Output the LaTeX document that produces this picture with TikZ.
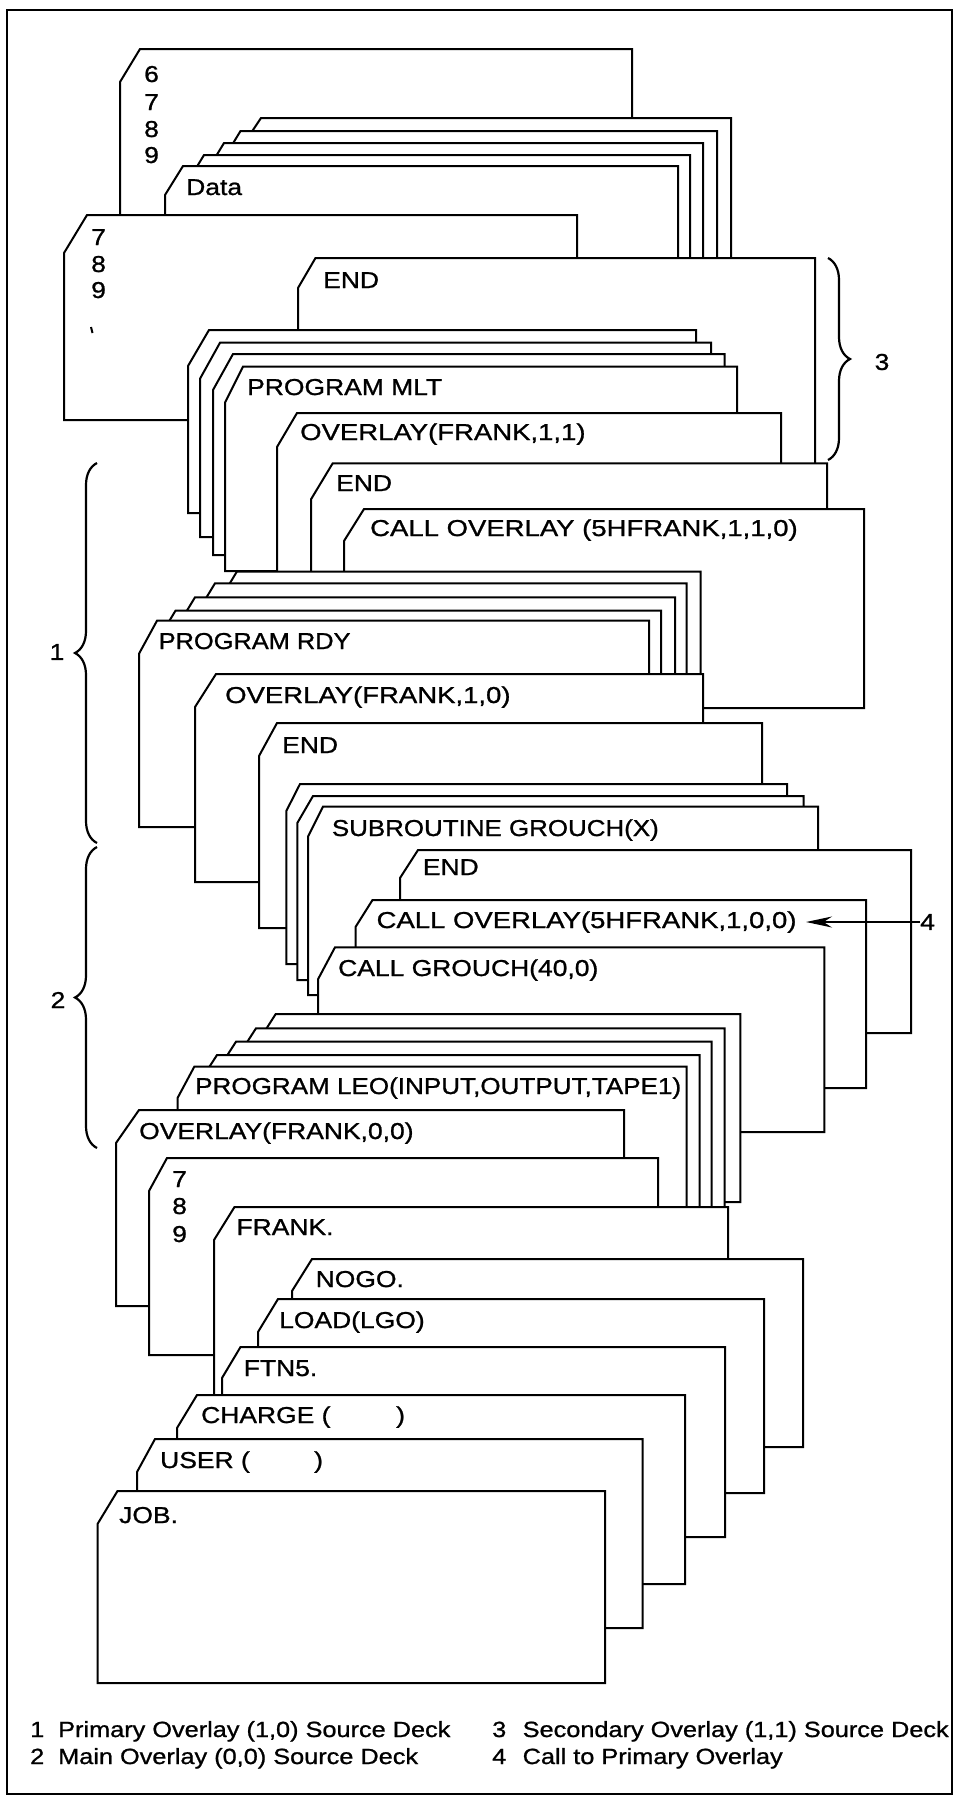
\documentclass[tikz,border=0pt]{standalone}
\usepackage{fontspec}
\usepackage{graphicx}
\setmainfont{Liberation Sans}[FakeStretch=1.15, FakeBold=1]
\usetikzlibrary{arrows.meta,decorations.pathreplacing}
\newcommand{\card}[6]{\filldraw[cardline] (#1,#3+#6) -- (#2,#3) -- (#4,#3) -- (#4,#5) -- (#1,#5) -- cycle;}
\newcommand{\wider}[1]{\scalebox{1.04}[1]{#1}}
\tikzset{
  cardline/.style={draw=black, fill=white, line width=2pt, line join=miter},
  lbl/.style={anchor=base west, inner sep=0pt, font=\fontsize{23}{27}\selectfont},
  leg/.style={anchor=base west, inner sep=0pt, font=\fontsize{22}{26}\selectfont},
  brc/.style={decorate, decoration={brace, amplitude=22pt}, line width=2.2pt},
  arr/.style={line width=2pt, -{Stealth[length=26pt,width=11pt]}}
}
\begin{document}
\begin{tikzpicture}[x=1pt,y=-1pt]
\useasboundingbox (0,0) rectangle (955,1797);
\draw[line width=2.5pt] (7,10) rectangle (952,1794);
% ---- top group
\card{120}{140}{49}{632}{240}{33}
\node[lbl] (d6) at (144,82) {6};
\node[lbl] (d7a) at (144,110) {7};
\node[lbl] (d8a) at (144,137) {8};
\node[lbl] (d9a) at (144,163) {9};
\card{241}{261}{118}{731}{300}{30}
\card{220.5}{240.5}{131}{717}{300}{33}
\card{204}{224}{143}{703}{300}{33}
\card{184}{204}{155}{690}{300}{33}
\card{165}{183}{166}{678}{300}{29}
\node[lbl] (tData) at (186,195) {Data};
\card{64}{87}{215}{577}{420}{38}
\node[lbl] (d7b) at (91,245) {7};
\node[lbl] (d8b) at (91,272) {8};
\node[lbl] (d9b) at (91,298) {9};
\draw[line width=2pt] (91,327) -- (92.5,333);
\card{298}{315.5}{258}{815}{480}{30}
\node[lbl] (tEnd1) at (323,288) {END};
% ---- secondary overlay deck
\card{188}{209}{330}{696}{513}{36}
\card{200}{220}{342.7}{711}{537}{36}
\card{213}{233}{354}{724.5}{555}{36}
\card{225}{243}{366.7}{737}{571}{36}
\node[lbl] (tMLT) at (247,395) {PROGRAM MLT};
\card{277}{297}{413}{781}{600}{34}
\node[lbl] (tOv11) at (300,440) {\wider{OVERLAY(FRANK,1,1)}};
\card{311}{332.7}{463.3}{827}{600}{36}
\node[lbl] (tEnd2) at (336,491) {END};
\card{344}{364}{509}{864}{708}{32}
\node[lbl] (tCall110) at (370,536) {\wider{CALL OVERLAY (5HFRANK,1,1,0)}};
% ---- primary overlay deck
\card{217}{236.8}{571.7}{700.6}{800}{33}
\card{195}{215}{583.3}{686.7}{800}{33}
\card{175}{195}{597.3}{675}{800}{33}
\card{155.5}{175.5}{610.7}{661}{800}{33}
\card{139}{157}{620.7}{649}{827}{33}
\node[lbl] (tRDY) at (158.5,649) {\scalebox{0.96}[1]{PROGRAM RDY}};
\card{195}{216}{674}{703}{882}{33}
\node[lbl] (tOv10) at (225,703) {\wider{OVERLAY(FRANK,1,0)}};
\card{259}{277}{723}{762}{928}{33}
\node[lbl] (tEnd3) at (282,753) {END};
% ---- main overlay deck
\card{286.3}{300}{784}{787}{964}{27}
\card{297.3}{313}{796}{803.5}{980}{27}
\card{308}{323}{806.7}{818}{995}{30}
\node[lbl] (tSub) at (331.7,836) {\scalebox{0.98}[1]{SUBROUTINE GROUCH(X)}};
\card{400}{418}{850}{911}{1033}{28}
\node[lbl] (tEnd4) at (422.7,875) {END};
\card{355.5}{372.5}{900}{866}{1088}{27}
\node[lbl] (tCall100) at (376.4,928) {\wider{CALL OVERLAY(5HFRANK,1,0,0)}};
\card{318}{335}{947.3}{824.4}{1132}{32}
\node[lbl] (tGrouch) at (338,976) {CALL GROUCH(40,0)};
\card{256}{275.7}{1014}{740.3}{1202}{31}
\card{236}{256}{1028.3}{724.5}{1215}{31}
\card{216}{236}{1041.7}{711.5}{1215}{31}
\card{197}{217}{1055}{699.6}{1215}{31}
\card{177.7}{194.3}{1066.7}{686.6}{1215}{31}
\node[lbl] (tLEO) at (195,1094) {\scalebox{0.985}[1]{PROGRAM LEO(INPUT,OUTPUT,TAPE1)}};
\card{116}{139}{1110}{624}{1306}{33}
\node[lbl] (tOv00) at (139,1139) {OVERLAY(FRANK,0,0)};
\card{149}{167}{1158}{658}{1355}{33}
\node[lbl] (d7c) at (172,1187) {7};
\node[lbl] (d8c) at (172,1214) {8};
\node[lbl] (d9c) at (172,1242) {9};
% ---- control cards
\card{214}{234.5}{1207}{728}{1420}{33}
\node[lbl] (tFrank) at (236.3,1235) {FRANK.};
\card{292}{312}{1259}{803}{1447}{32}
\node[lbl] (tNogo) at (315.5,1287) {NOGO.};
\card{258}{278}{1299}{764}{1493}{33}
\node[lbl] (tLoad) at (279,1328) {LOAD(LGO)};
\card{222}{240.5}{1347}{725}{1537}{31}
\node[lbl] (tFtn) at (243.6,1376) {FTN5.};
\card{177}{197}{1395}{685}{1584}{33}
\node[lbl] (tCharge) at (201,1423) {CHARGE (};
\node[lbl] (tChargeR) at (396,1423) {)};
\card{137}{155}{1439}{642.5}{1628}{33}
\node[lbl] (tUser) at (160,1468) {USER (};
\node[lbl] (tUserR) at (314,1468) {)};
\card{97.5}{117.5}{1491}{605}{1683}{33}
\node[lbl] (tJob) at (119,1523) {JOB.};
% ---- braces and labels
\draw[brc] (97,843) -- (97,463);
\node[lbl, anchor=center] (b1) at (57,652) {1};
\draw[brc] (97,1148) -- (97,847);
\node[lbl, anchor=center] (b2) at (58,1000) {2};
\draw[brc] (828,258) -- (828,460);
\node[lbl, anchor=center] (b3) at (882,362) {3};
\node[lbl, anchor=west] (b4) at (920,922) {4};
\coordinate (a4) at (806,922);
\draw[arr] (b4.west) -- (a4);
% ---- legend
\node[leg] (l1n) at (30,1737) {1};
\node[leg] (l1) at (58,1737) {Primary Overlay (1,0) Source Deck};
\node[leg] (l2n) at (30,1764) {2};
\node[leg] (l2) at (58,1764) {Main Overlay (0,0) Source Deck};
\node[leg] (l3n) at (492,1737) {3};
\node[leg] (l3) at (522.5,1737) {Secondary Overlay (1,1) Source Deck};
\node[leg] (l4n) at (492,1764) {4};
\node[leg] (l4) at (522.5,1764) {Call to Primary Overlay};
\end{tikzpicture}
\end{document}
